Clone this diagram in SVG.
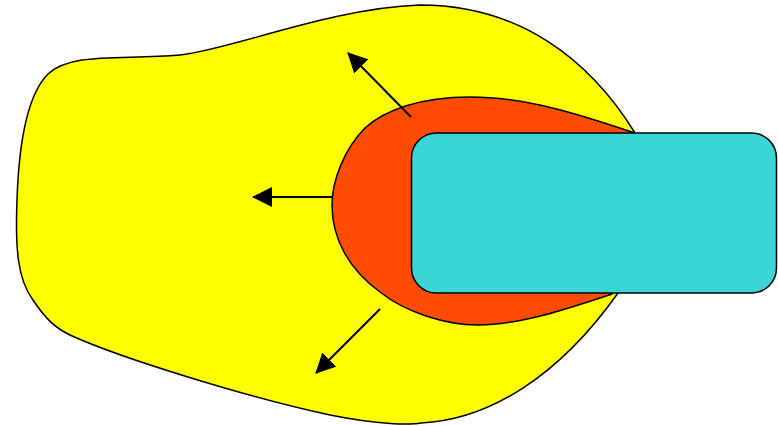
<svg xmlns="http://www.w3.org/2000/svg" width="778" height="426" viewBox="0 0 778 426">
<style>
.shape{stroke:#000;stroke-width:1.5;stroke-linejoin:round}
.arrow{stroke:#000;stroke-width:2;fill:none}
</style>
<defs>
<marker id="ah" viewBox="0 0 20 20" refX="19" refY="10" markerWidth="20" markerHeight="20" markerUnits="userSpaceOnUse" orient="auto">
<path d="M0,0 L20,10 L0,20 Z" fill="#000"/>
</marker>
</defs>
<g id="outer-region">
<path class="shape" fill="#FFFF00" d="M635,133 C590,60 520,5 420,5 C330,8 230,50 180,55 C120,60 72,52 48,74 C28,94 19,140 17,200 C15,250 18,280 33,300 C45,318 55,328 70,335 C120,358 250,398 330,415 C380,425 410,425 421,423 C490,420 560,375 618,293 L635,133 Z"/>
</g>
<g id="inner-region">
<path class="shape" fill="#FF4C00" d="M635,133 C590,118 530,97 470,97 C420,97 385,110 365,128 C345,148 332,180 332,205 C332,240 350,270 380,292 C405,312 445,325 478,325 C520,325 570,308 612,294 L635,133 Z"/>
</g>
<g id="block">
<rect class="shape" fill="#3AD5D5" x="411.5" y="133" width="365" height="160" rx="25" ry="25"/>
</g>
<g id="connectors">
<line class="arrow" x1="411" y1="117" x2="348" y2="53" marker-end="url(#ah)"/>
<line class="arrow" x1="332" y1="197" x2="253" y2="197" marker-end="url(#ah)"/>
<line class="arrow" x1="380" y1="309" x2="316" y2="373" marker-end="url(#ah)"/>
</g>
</svg>
